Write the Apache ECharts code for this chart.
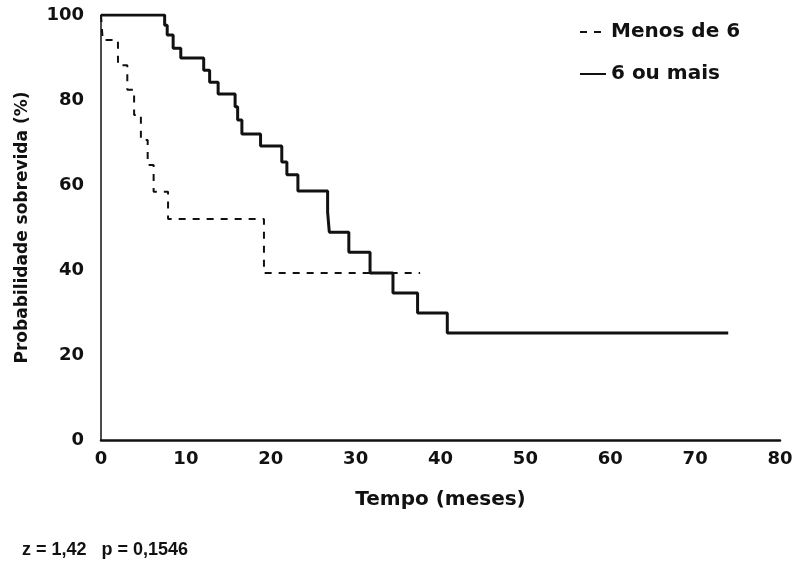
<!DOCTYPE html>
<html>
<head>
<meta charset="utf-8">
<script src="https://cdn.jsdelivr.net/npm/echarts@6/dist/echarts.min.js"></script>
<style>
html,body{margin:0;padding:0;background:#fff;}
#chart{width:796px;height:567px;}
</style>
</head>
<body>
<div id="chart"></div>
<script>
// Data
var seriesNames = ['Menos de 6', '6 ou mais'];
var menosTime = [0, 0.2, 2.0, 3.1, 3.9, 4.7, 5.5, 6.2, 7.9, 19.2, 37.6];
var menosSurv = [100, 94.1, 88.2, 82.4, 76.5, 70.6, 64.7, 58.4, 52.0, 39.3, 39.3];
var maisTime = [0, 7.5, 7.8, 8.5, 9.4, 12.1, 12.8, 13.8, 15.8, 16.1, 16.6, 18.8, 21.3, 21.9, 23.2, 26.7, 26.9, 29.2, 31.7, 34.4, 37.3, 40.8, 73.9];
var maisSurv = [100, 97.6, 95.3, 92.2, 89.9, 87.0, 84.2, 81.4, 78.4, 75.3, 72.0, 69.2, 65.4, 62.4, 58.6, 53.6, 48.9, 44.2, 39.3, 34.6, 29.9, 25.2, 25.2];
var xTicks = [0, 10, 20, 30, 40, 50, 60, 70, 80];
var yTicks = [0, 20, 40, 60, 80, 100];
var xTitle = 'Tempo (meses)';
var yTitle = 'Probabilidade sobrevida (%)';
var footer = 'z = 1,42   p = 0,1546';

function pairs(t, s) { return t.map(function (v, i) { return [v, s[i]]; }); }

var FONT = 'DejaVu Sans';
var chart = echarts.init(document.getElementById('chart'), null, { renderer: 'canvas' });
chart.setOption({
  animation: false,
  backgroundColor: '#ffffff',
  grid: { left: 101, right: 16, top: 15, bottom: 127, containLabel: false },
  legend: {
    orient: 'vertical',
    left: 574,
    top: 17,
    itemWidth: 26,
    itemHeight: 12,
    itemGap: 22,
    data: seriesNames,
    itemStyle: { opacity: 0 },
    textStyle: { fontFamily: FONT, fontWeight: 'bold', fontSize: 20, color: '#111' }
  },
  xAxis: {
    type: 'value',
    min: xTicks[0],
    max: xTicks[xTicks.length - 1],
    interval: 10,
    name: xTitle,
    nameLocation: 'middle',
    nameGap: 50,
    nameTextStyle: { fontFamily: FONT, fontWeight: 'bold', fontSize: 20, color: '#111' },
    axisLine: { lineStyle: { color: '#111', width: 2.5 } },
    axisTick: { show: false },
    splitLine: { show: false },
    axisLabel: { margin: 10, fontFamily: FONT, fontWeight: 'bold', fontSize: 18, color: '#111' }
  },
  yAxis: {
    type: 'value',
    min: yTicks[0],
    max: yTicks[yTicks.length - 1],
    interval: 20,
    name: yTitle,
    nameLocation: 'middle',
    nameGap: 70,
    nameTextStyle: { fontFamily: FONT, fontWeight: 'bold', fontSize: 17, color: '#111' },
    axisLine: { show: true, lineStyle: { color: '#111', width: 1.5 } },
    axisTick: { show: false },
    splitLine: { show: false },
    axisLabel: { margin: 17, fontFamily: FONT, fontWeight: 'bold', fontSize: 18, color: '#111' }
  },
  series: [
    {
      name: seriesNames[0],
      type: 'line',
      step: 'end',
      symbol: 'none',
      data: pairs(menosTime, menosSurv),
      lineStyle: { color: '#111', width: 2, type: [7, 7] },
      itemStyle: { color: '#111' }
    },
    {
      name: seriesNames[1],
      type: 'line',
      step: 'end',
      symbol: 'none',
      data: pairs(maisTime, maisSurv),
      lineStyle: { color: '#111', width: 3 },
      itemStyle: { color: '#111' }
    }
  ],
  graphic: [
    {
      type: 'text',
      left: 22,
      top: 541,
      style: { text: footer, fontFamily: 'Liberation Sans Narrow, Liberation Sans', fontWeight: 'bold', fontSize: 18, fill: '#111' }
    }
  ]
});
</script>
</body>
</html>
